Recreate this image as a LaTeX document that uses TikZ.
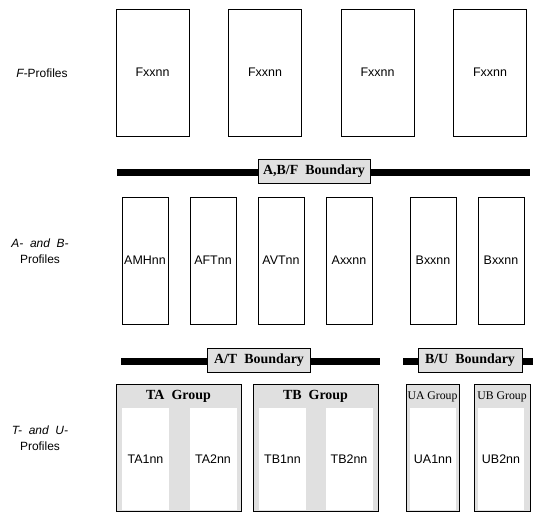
\documentclass[tikz,border=0pt]{standalone}
\usepackage{fontspec}
\setmainfont{Liberation Serif}
\setsansfont{Liberation Sans}
\usepackage{tikz}
\usetikzlibrary{positioning}
\definecolor{panel}{gray}{0.88}

\begin{document}
\begin{tikzpicture}[x=1bp, y=-1bp,
  font=\sffamily\fontsize{12.5}{14}\selectfont,
  prof/.style={draw, line width=0.8bp, fill=white, inner sep=0pt, outer sep=0pt,
  minimum width=73bp, minimum height=127bp},
  narrow/.style={prof, minimum width=46bp},
  grp/.style={draw, line width=0.8bp, fill=panel, inner sep=0pt, minimum height=127bp},
  slot/.style={fill=white, inner sep=0pt, minimum width=46bp, minimum height=102bp},
  bnd/.style={draw, line width=0.8bp, fill=panel, inner sep=0pt, minimum height=24bp,
  font=\rmfamily\bfseries\fontsize{14}{16}\selectfont},
  gtitle/.style={inner sep=0pt, font=\rmfamily\bfseries\fontsize{14}{16}\selectfont},
  smalltitle/.style={inner sep=0pt, font=\rmfamily\fontsize{11.8}{13}\selectfont},
  bar/.style={line width=7bp},
  side/.style={align=center, font=\sffamily\fontsize{12}{16}\selectfont},
  node distance=39.5bp]
\useasboundingbox (0,0) rectangle (552,522);

% F row
\node[side] (fside) at (42,73) {\textit{F-}Profiles};
\node[prof] (f1) at (152.5,72.5) {Fxxnn};
\node[prof,right=of f1] (f2) {Fxxnn};
\node[prof,right=of f2] (f3) {Fxxnn};
\node[prof,right=of f3] (f4) {Fxxnn};

% A,B/F boundary
\coordinate (abfL) at (117,173);
\coordinate (abfR) at (530,173);
\draw[bar] (abfL) -- (abfR);
\node[bnd, minimum width=112bp] (abf) at (314,171) {A,B/F\ \ Boundary};

% A and B row
\node[side] (abside) at (40,251) {\textit{A-~~and~~B-}\\Profiles};
\node[narrow] (amh) at (145,260.5) {AMHnn};
\node[narrow,right=22bp of amh] (aft) {AFTnn};
\node[narrow,right=22bp of aft] (avt) {AVTnn};
\node[narrow,right=22bp of avt] (axx) {Axxnn};
\node[narrow,right=38bp of axx] (bxa) {Bxxnn};
\node[narrow,right=22bp of bxa] (bxb) {Bxxnn};

% A/T and B/U boundaries
\coordinate (atL) at (121,361);
\coordinate (atR) at (380,361);
\draw[bar] (atL) -- (atR);
\node[bnd, minimum width=103bp] (at) at (259,360) {A/T\ \ Boundary};
\coordinate (buL) at (403,361);
\coordinate (buR) at (533,361);
\draw[bar] (buL) -- (buR);
\node[bnd, minimum width=104bp] (bu) at (470,360) {B/U\ \ Boundary};

% T and U groups
\node[side] (tuside) at (40,438) {\textit{T-~~and~~U-}\\Profiles};
\node[grp, minimum width=125bp] (ta) at (178.5,447.5) {};
\node[gtitle] (tatitle) at (178.5,396) {TA\ \ Group};
\node[slot, minimum width=47bp] (ta1) at (145.5,459) {TA1nn};
\node[slot, minimum width=47bp] (ta2) at (213,459) {TA2nn};

\node[grp, minimum width=125bp] (tb) at (315.5,447.5) {};
\node[gtitle] (tbtitle) at (315.5,396) {TB\ \ Group};
\node[slot, minimum width=47bp] (tb1) at (282.5,459) {TB1nn};
\node[slot, minimum width=47bp] (tb2) at (349,459) {TB2nn};

\node[grp, minimum width=53bp] (ua) at (432.5,447.5) {};
\node[smalltitle] (uatitle) at (432.5,397) {UA Group};
\node[slot] (ua1) at (433,459) {UA1nn};

\node[grp, minimum width=56bp] (ub) at (502,447.5) {};
\node[smalltitle] (ubtitle) at (502,397) {UB Group};
\node[slot] (ub2) at (501,459) {UB2nn};
\end{tikzpicture}
\end{document}
